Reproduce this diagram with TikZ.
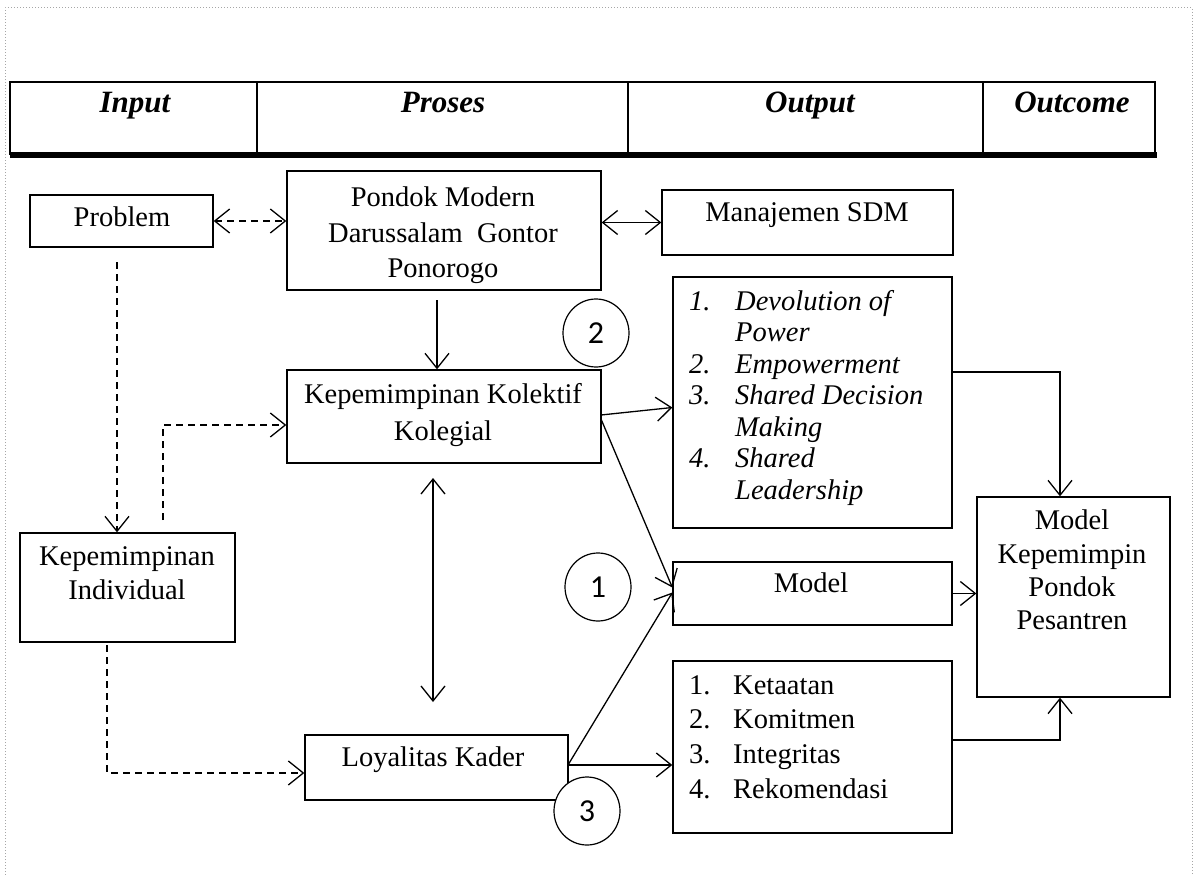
\documentclass[tikz,border=0pt]{standalone}
\usepackage{fontspec}
\setmainfont{Liberation Serif}
\newfontfamily\numfont{Carlito}
\usetikzlibrary{arrows.meta,calc,shapes.geometric}
\begin{document}
\begin{tikzpicture}[x=1pt,y=-1pt,
  box/.style={draw, line width=1.3pt, inner sep=0pt},
  txt/.style={inner sep=0pt, anchor=north, align=center, font=\fontsize{28.5}{35}\selectfont},
  lst/.style={inner sep=0pt, anchor=north west, align=left},
  hdr/.style={inner sep=0pt, anchor=base, font=\fontsize{31}{36}\selectfont\bfseries\itshape},
  circ/.style={draw, ellipse, line width=1.2pt, fill=white, minimum width=66pt, minimum height=68pt, inner sep=0pt, font=\numfont\fontsize{32}{36}\selectfont},
  tip/.tip={Straight Barb[length=15pt,width=24pt,line width=1.3pt]},
  conn/.style={line width=1.3pt, -tip},
  conn2/.style={line width=1.3pt, tip-tip},
  dsh/.style={dash pattern=on 7pt off 5pt}
]
\useasboundingbox (0,0) rectangle (1197,875);
% page frame
\draw[gray!70, line width=1pt, dotted] (5,875) -- (5,8) -- (1192,8) -- (1192,875);
% header table
\draw[line width=1.4pt] (10,155) -- (10,82) -- (1155,82) -- (1155,155);
\foreach \xx in {257,628,983} \draw[line width=1.2pt] (\xx,82) -- (\xx,155);
\draw[line width=6pt] (10,155) -- (1157,155);
\node[hdr] (hin) at (135,112) {Input};
\node[hdr] (hpr) at (443,112) {Proses};
\node[hdr] (hout) at (810,112) {Output};
\node[hdr] (hoc) at (1072,112) {Outcome};

% boxes
\node[box, minimum width=314pt, minimum height=119pt] (pondok) at (444,230.5) {};
\node[box, minimum width=183pt, minimum height=52pt] (problem) at (121.5,221) {};
\node[box, minimum width=291pt, minimum height=65pt] (sdm) at (807.5,222.5) {};
\node[box, minimum width=314pt, minimum height=93pt] (kolektif) at (444,416.5) {};
\node[box, minimum width=279pt, minimum height=251pt] (devo) at (812.5,402.5) {};
\node[box, minimum width=215pt, minimum height=109pt] (indiv) at (127.5,587.5) {};
\node[box, minimum width=279pt, minimum height=63pt] (model) at (812.5,593.5) {};
\node[box, minimum width=193pt, minimum height=200pt] (outcome) at (1073.5,597) {};
\node[box, minimum width=279pt, minimum height=172pt] (ketaatan) at (812.5,747) {};
\node[box, minimum width=263pt, minimum height=65pt] (loyal) at (436.5,767.5) {};

% box texts
\node[txt] (tproblem) at (122,207) {Problem};
\node[txt, font=\fontsize{28.5}{35.5}\selectfont] (tpondok) at (443,187) {Pondok Modern\\Darussalam\ \ Gontor\\Ponorogo};
\node[txt] (tsdm) at (807,202) {Manajemen SDM};
\node[txt, font=\fontsize{28.5}{37}\selectfont] (tkolektif) at (443,383) {Kepemimpinan Kolektif\\Kolegial};
\node[txt, font=\fontsize{28.5}{34}\selectfont] (tindiv) at (127,546) {Kepemimpinan\\Individual};
\node[txt] (tmodel) at (811,573) {Model};
\node[txt, font=\fontsize{28.5}{33.3}\selectfont] (toutcome) at (1072,510) {Model\\Kepemimpin\\Pondok\\Pesantren};
\node[txt] (tloyal) at (433,747) {Loyalitas Kader};

\node[lst, font=\fontsize{28.5}{31.5}\selectfont\itshape] (tdevo) at (689,290)
 {\makebox[46pt][l]{1.}Devolution of\\\makebox[46pt][l]{}Power\\\makebox[46pt][l]{2.}Empowerment\\\makebox[46pt][l]{3.}Shared Decision\\\makebox[46pt][l]{}Making\\\makebox[46pt][l]{4.}Shared\\\makebox[46pt][l]{}Leadership};
\node[lst, font=\fontsize{28.5}{34.7}\selectfont] (tket) at (689,675)
 {\makebox[44pt][l]{1.}Ketaatan\\\makebox[44pt][l]{2.}Komitmen\\\makebox[44pt][l]{3.}Integritas\\\makebox[44pt][l]{4.}Rekomendasi};

% connectors
\draw[conn2, dsh] (problem.east) -- (problem.east -| pondok.west);
\draw[conn2] (sdm.west -| pondok.east) -- (sdm.west);
\coordinate (pk1) at (437,300);
\draw[conn] (pk1) -- (pk1 |- kolektif.north);
\coordinate (kl1) at (433,478);
\coordinate (kl2) at (433,702);
\draw[conn2] (kl1) -- (kl2);
\coordinate (kolR1) at (601,415);
\coordinate (kolR2) at (601,419);
\draw[conn] (kolR1) -- ($(devo.west)+(0,5)$);
\draw[conn] (kolR2) -- ($(model.west)+(0,-6)$);
\coordinate (loyR) at (568,765);
\draw[conn] (loyR) -- ($(model.west)+(0,-1)$);
\draw[conn] (loyR) -- (loyR -| ketaatan.west);
\coordinate (devR) at (952,372);
\draw[conn] (devR) -| (outcome.north -| 1060,0);
\draw[conn] (model.east) -- (model.east -| outcome.west);
\coordinate (ketR) at (952,740);
\draw[conn] (ketR) -| (outcome.south -| 1060,0);
\coordinate (pi1) at (117,262);
\draw[conn, dsh] (pi1) -- (pi1 |- indiv.north);
\coordinate (ik1) at (163,520);
\draw[conn, dsh] (ik1) |- (kolektif.west |- 0,425);
\coordinate (il1) at (107,645);
\draw[conn, dsh] (il1) |- (loyal.west |- 0,773);

% circles
\node[circ] (c2) at (596,333) {2};
\node[circ] (c1) at (598,587) {1};
\node[circ] (c3) at (587,811) {3};
\end{tikzpicture}
\end{document}
